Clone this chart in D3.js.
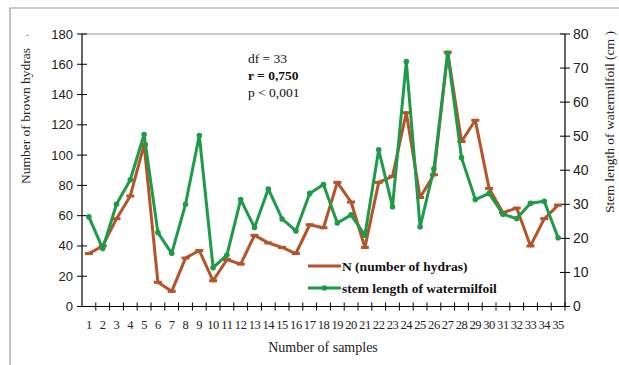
<!DOCTYPE html>
<html><head><meta charset="utf-8">
<script src="https://cdn.jsdelivr.net/npm/d3@7"></script>
<style>body{margin:0;background:#fff;}svg{display:block;}</style>
</head><body>
<svg id="c" width="619" height="365"></svg>
<script>
const samples = d3.range(1, 36).map(String);
const hydras = [35,40,58,73,107,16,10,32,37,17,31,28,47,42,39,35,54,52,82,69,39,82,86,128,72,87,168,109,123,78,62,65,40,58,67];
const stemLength = [26.3,17,30,37.2,50.5,21.7,15.6,30,50.2,11.4,15.1,31.4,23.2,34.5,25.7,22.2,33.2,35.8,24.5,26.9,20.9,46,29.3,71.9,23.4,40.4,74.3,43.7,31.4,33.2,27.1,25.8,30.3,30.9,20.2];
const leftTicks = [0,20,40,60,80,100,120,140,160,180];
const rightTicks = [0,10,20,30,40,50,60,70,80];

const brown = "#b5532a", green = "#1f9a48";
const svg = d3.select("#c");
const L = 82, R = 565, T = 34, B = 306.5;
const serif = "'Liberation Serif','Times New Roman',serif";
const sans = "'Liberation Sans',Arial,sans-serif";

// frame
svg.append("path").attr("d", `M10,365 V8 H619`).attr("fill","none").attr("stroke","#999").attr("stroke-width",1.2);

const x = d3.scaleBand().domain(samples).range([L, R]);
const yL = d3.scaleLinear().domain([0,180]).range([B, T]);
const yR = d3.scaleLinear().domain([0,80]).range([B, T]);

// top line
svg.append("line").attr("x1",L).attr("x2",R).attr("y1",T).attr("y2",T).attr("stroke","#999").attr("stroke-width",1.2);

// left axis
const gl = svg.append("g").attr("transform",`translate(${L},0)`);
gl.append("line").attr("y1",T).attr("y2",B).attr("stroke","#000").attr("stroke-width",1.2);
leftTicks.forEach(t=>{
  gl.append("line").attr("x1",-5).attr("x2",5).attr("y1",yL(t)).attr("y2",yL(t)).attr("stroke","#000").attr("stroke-width",1);
  gl.append("text").attr("x",-9).attr("y",yL(t)).attr("dy","0.35em").attr("text-anchor","end")
    .attr("font-family",sans).attr("font-size",13).attr("fill","#222").text(t);
});
// right axis
const gr = svg.append("g").attr("transform",`translate(${R},0)`);
gr.append("line").attr("y1",T).attr("y2",B).attr("stroke","#000").attr("stroke-width",1.2);
rightTicks.forEach(t=>{
  gr.append("line").attr("x1",-5).attr("x2",5).attr("y1",yR(t)).attr("y2",yR(t)).attr("stroke","#000").attr("stroke-width",1);
  gr.append("text").attr("x",8).attr("y",yR(t)).attr("dy","0.35em").attr("text-anchor","start")
    .attr("font-family",sans).attr("font-size",14).attr("fill","#222").text(t);
});
// bottom axis
const gb = svg.append("g");
gb.append("line").attr("x1",L).attr("x2",R).attr("y1",B).attr("y2",B).attr("stroke","#000").attr("stroke-width",1.2);
samples.forEach((s,i)=>{
  const bx = x(s);
  gb.append("line").attr("x1",bx+x.bandwidth()).attr("x2",bx+x.bandwidth()).attr("y1",B-4).attr("y2",B+4).attr("stroke","#000").attr("stroke-width",1);
  gb.append("text").attr("x",bx+x.bandwidth()/2).attr("y",B+22).attr("text-anchor","middle")
    .attr("font-family",serif).attr("font-size",12.5).attr("letter-spacing",-0.4).attr("fill","#222").text(s);
});

const cx = d => x(d)+x.bandwidth()/2;
// lines
const lineL = d3.line().x((d,i)=>cx(samples[i])).y(d=>yL(d));
const lineR = d3.line().x((d,i)=>cx(samples[i])).y(d=>yR(d));
svg.append("path").datum(hydras).attr("d",lineL).attr("fill","none").attr("stroke",brown).attr("stroke-width",3).attr("stroke-linejoin","round");
svg.selectAll(".mb").data(hydras).enter().append("rect")
  .attr("x",(d,i)=>cx(samples[i])-4).attr("y",d=>yL(d)-1.5).attr("width",8).attr("height",3).attr("fill",brown);
svg.append("path").datum(stemLength).attr("d",lineR).attr("fill","none").attr("stroke",green).attr("stroke-width",3).attr("stroke-linejoin","round");
svg.selectAll(".mg").data(stemLength).enter().append("circle")
  .attr("cx",(d,i)=>cx(samples[i])).attr("cy",d=>yR(d)).attr("r",2.8).attr("fill",green);

// axis titles
svg.append("text").attr("transform","translate(30,116) rotate(-90)").attr("text-anchor","middle")
  .attr("font-family",serif).attr("font-size",13.5).attr("fill","#222").text("Number of brown hydras");
svg.append("text").attr("x",26).attr("y",36).attr("font-family",serif).attr("font-size",10).attr("fill","#444").text(".");
svg.append("text").attr("transform","translate(614,122) rotate(-90)").attr("text-anchor","middle")
  .attr("font-family",serif).attr("font-size",13.5).attr("fill","#222").text("Stem length of watermilfoil (cm )");
svg.append("text").attr("x",323).attr("y",352).attr("text-anchor","middle")
  .attr("font-family",serif).attr("font-size",14).attr("fill","#222").text("Number of samples");

// stats
const st = svg.append("g").attr("font-family",serif).attr("font-size",13.5).attr("fill","#111");
st.append("text").attr("x",248).attr("y",63).text("df = 33");
st.append("text").attr("x",248).attr("y",80).attr("font-weight","bold").text("r = 0,750");
st.append("text").attr("x",248).attr("y",97).text("p < 0,001");

// legend
const lg = svg.append("g").attr("font-family",serif).attr("font-size",13.5).attr("font-weight","bold").attr("fill","#111");
lg.append("line").attr("x1",308).attr("x2",341).attr("y1",266).attr("y2",266).attr("stroke",brown).attr("stroke-width",3);
lg.append("text").attr("x",342).attr("y",270.5).text("N (number of hydras)");
lg.append("line").attr("x1",308).attr("x2",341).attr("y1",288).attr("y2",288).attr("stroke",green).attr("stroke-width",3);
lg.append("circle").attr("cx",324.5).attr("cy",288).attr("r",2.8).attr("fill",green);
lg.append("text").attr("x",342).attr("y",292.5).text("stem length of watermilfoil");
</script>
</body></html>
